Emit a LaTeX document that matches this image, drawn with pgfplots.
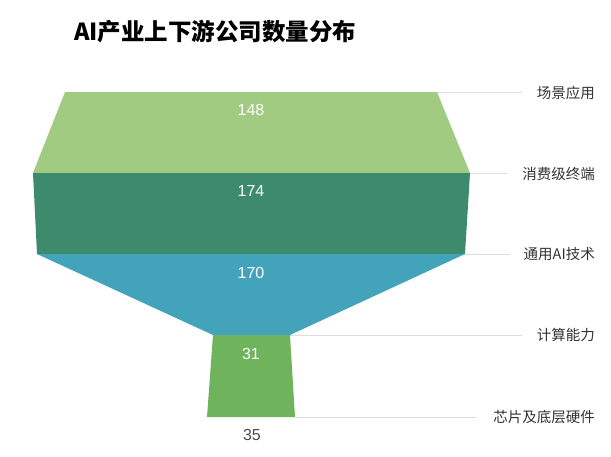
\documentclass[border=0pt]{standalone}
\usepackage{pgfplots}
\pgfplotsset{compat=1.18}
\usepackage{fontspec}
\setmainfont{Noto Sans CJK SC}[BoldFont={Noto Sans CJK SC Black}]
\newfontfamily\numfont{Liberation Sans}
\definecolor{band1}{HTML}{A0CB80}
\definecolor{band2}{HTML}{3E8A6D}
\definecolor{band3}{HTML}{43A3BA}
\definecolor{band4}{HTML}{6FB35C}
\definecolor{guide}{HTML}{DDDDDD}
\definecolor{labtxt}{HTML}{333333}
\begin{document}
\begin{tikzpicture}
\begin{axis}[
 scale only axis, width=611pt, height=456pt,
 xmin=0, xmax=611, ymin=0, ymax=456, y dir=reverse,
 hide axis, clip=false]
\path (axis cs:0,0) rectangle (axis cs:611,456);
% guide lines from funnel edge to category label
\addplot[guide, line width=1pt] coordinates {(437,92) (522,92)};
\addplot[guide, line width=1pt] coordinates {(470,173) (507,173)};
\addplot[guide, line width=1pt] coordinates {(465,254) (510,254)};
\addplot[guide, line width=1pt] coordinates {(290,335) (522,335)};
\addplot[guide, line width=1pt] coordinates {(295,417) (477,417)};
% funnel bands
\addplot[fill=band1, draw=none] coordinates {(65,92) (437,92) (470,173) (33,173)} -- cycle;
\addplot[fill=band2, draw=none] coordinates {(33,173) (470,173) (465,254) (37,254)} -- cycle;
\addplot[fill=band3, draw=none] coordinates {(37,254) (465,254) (290,335) (213,335)} -- cycle;
\addplot[fill=band4, draw=none] coordinates {(213,335) (290,335) (295,417) (207,417)} -- cycle;
% values
\node[text=white, font=\numfont\fontsize{16}{16}\selectfont] at (axis cs:251,110) {148};
\node[text=white, font=\numfont\fontsize{16}{16}\selectfont] at (axis cs:251,191) {174};
\node[text=white, font=\numfont\fontsize{16}{16}\selectfont] at (axis cs:251,273) {170};
\node[text=white, font=\numfont\fontsize{16}{16}\selectfont] at (axis cs:251,354) {31};
\node[text=black!70, font=\numfont\fontsize{16}{16}\selectfont] at (axis cs:252,435) {35};
% category labels
\node[anchor=east, inner sep=0pt, text=labtxt, font=\fontsize{14.5}{15}\selectfont] at (axis cs:595,93) {场景应用};
\node[anchor=east, inner sep=0pt, text=labtxt, font=\fontsize{14.5}{15}\selectfont] at (axis cs:595,174) {消费级终端};
\node[anchor=east, inner sep=0pt, text=labtxt, font=\fontsize{14.5}{15}\selectfont] at (axis cs:595,254) {通用AI技术};
\node[anchor=east, inner sep=0pt, text=labtxt, font=\fontsize{14.5}{15}\selectfont] at (axis cs:595,335) {计算能力};
\node[anchor=east, inner sep=0pt, text=labtxt, font=\fontsize{14.5}{15}\selectfont] at (axis cs:595,417) {芯片及底层硬件};
% title
\node[anchor=west, inner sep=0pt, font=\bfseries\fontsize{23.5}{26}\selectfont] at (axis cs:74,32) {AI产业上下游公司数量分布};
\end{axis}
\end{tikzpicture}
\end{document}
